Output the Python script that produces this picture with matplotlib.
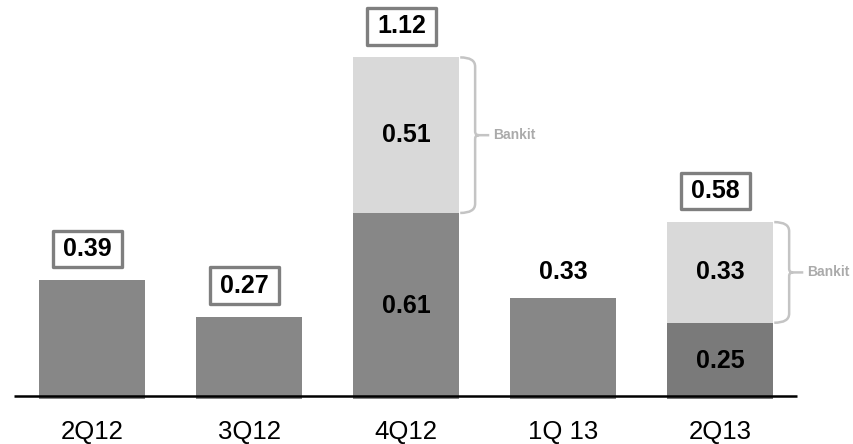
import numpy as np
import matplotlib as mtp
mtp.use('Agg')
import matplotlib.pyplot as plt
from matplotlib.path import Path
from matplotlib.patches import PathPatch, Rectangle

plt.rcParams['font.family'] = ['Liberation Sans', 'DejaVu Sans']

# data kuartal
quarters = ['2Q12', '3Q12', '4Q12', '1Q 13', '2Q13']
base_vals = [0.39, 0.27, 0.61, 0.33, 0.25]
bankit_vals = [0.0, 0.0, 0.51, 0.0, 0.33]
totals = [0.39, 0.27, 1.12, 0.33, 0.58]
boxed = [True, True, True, False, True]

C_BASE = '#878787'
C_BASE_DARK = '#7a7a7a'
C_BANKIT = '#d9d9d9'
C_BRACE = '#c4c4c4'
C_BOX = '#7f7f7f'

fig = plt.figure(figsize=(8.54, 4.44), dpi=100)
ax = fig.add_axes([0, 45 / 444, 1, 399 / 444])
x = np.arange(len(quarters))
width = 0.68

base_colors = [C_BASE] * 4 + [C_BASE_DARK]
ax.bar(x, base_vals, width, color=base_colors, zorder=2)
ax.bar(x, bankit_vals, width, bottom=base_vals, color=C_BANKIT, zorder=2)

ax.set_xlim(-0.586, 4.853)
ax.set_ylim(0, 399 / 305)

# garis sumbu
ax.plot([-0.497, 4.49], [0.01, 0.01], color='black', lw=1.8, zorder=3,
        solid_capstyle='butt')

FS = 18

# label di dalam batang
for i in range(len(x)):
    if bankit_vals[i] > 0:
        ax.text(x[i], base_vals[i] / 2, f"{base_vals[i]:.2f}", ha='center', va='center',
                fontsize=FS, fontweight='bold', zorder=4)
        ax.text(x[i], base_vals[i] + bankit_vals[i] / 2, f"{bankit_vals[i]:.2f}",
                ha='center', va='center', fontsize=FS, fontweight='bold', zorder=4)

# label total (dengan kotak)
for i in range(len(x)):
    if boxed[i]:
        cx, cy = x[i] - 0.03, totals[i] + 0.102
        bw, bh = 0.44, 0.12
        ax.add_patch(Rectangle((cx - bw / 2, cy - bh / 2), bw, bh, fc='white', ec=C_BOX,
                               lw=2.4, joinstyle='round', zorder=4))
        ax.text(cx, cy, f"{totals[i]:.2f}", ha='center', va='center',
                fontsize=FS, fontweight='bold', zorder=5)
    else:
        ax.text(x[i], totals[i] + 0.085, f"{totals[i]:.2f}", ha='center', va='center',
                fontsize=FS, fontweight='bold', zorder=5)


def brace(x0, y0, y1, hx=0.095, r=0.03, t=0.025, rt=0.012, d=0.065):
    # kurung kurawal "}" dengan tanda strip ke label
    ym = (y0 + y1) / 2
    xv = x0 + hx
    verts = [(x0, y1), (xv, y1), (xv, y1 - r),
             (xv, ym + rt), (xv, ym), (xv + t, ym),
             (xv + t + d, ym),
             (xv, ym - rt), (xv, ym), (xv + t, ym),
             (xv, ym - rt), (xv, y0 + r),
             (xv, y0), (x0, y0)]
    codes = [Path.MOVETO, Path.CURVE3, Path.CURVE3,
             Path.LINETO, Path.CURVE3, Path.CURVE3,
             Path.LINETO,
             Path.MOVETO, Path.CURVE3, Path.CURVE3,
             Path.MOVETO, Path.LINETO,
             Path.CURVE3, Path.CURVE3]
    ax.add_patch(PathPatch(Path(verts, codes), fc='none', ec=C_BRACE, lw=1.8, zorder=3))
    ax.text(xv + t + d + 0.025, ym, 'Bankit', ha='left', va='center', fontsize=10,
            fontweight='bold', color='#aaaaaa')


for i in range(len(x)):
    if bankit_vals[i] > 0:
        brace(x[i] + width / 2 + 0.005, base_vals[i], totals[i])

ax.set_xticks(x)
ax.set_xticklabels(quarters, fontsize=18.5)
ax.tick_params(axis='x', length=0, pad=15)
ax.set_yticks([])
for s in ax.spines.values():
    s.set_visible(False)

fig.savefig('out.png', dpi=100)
